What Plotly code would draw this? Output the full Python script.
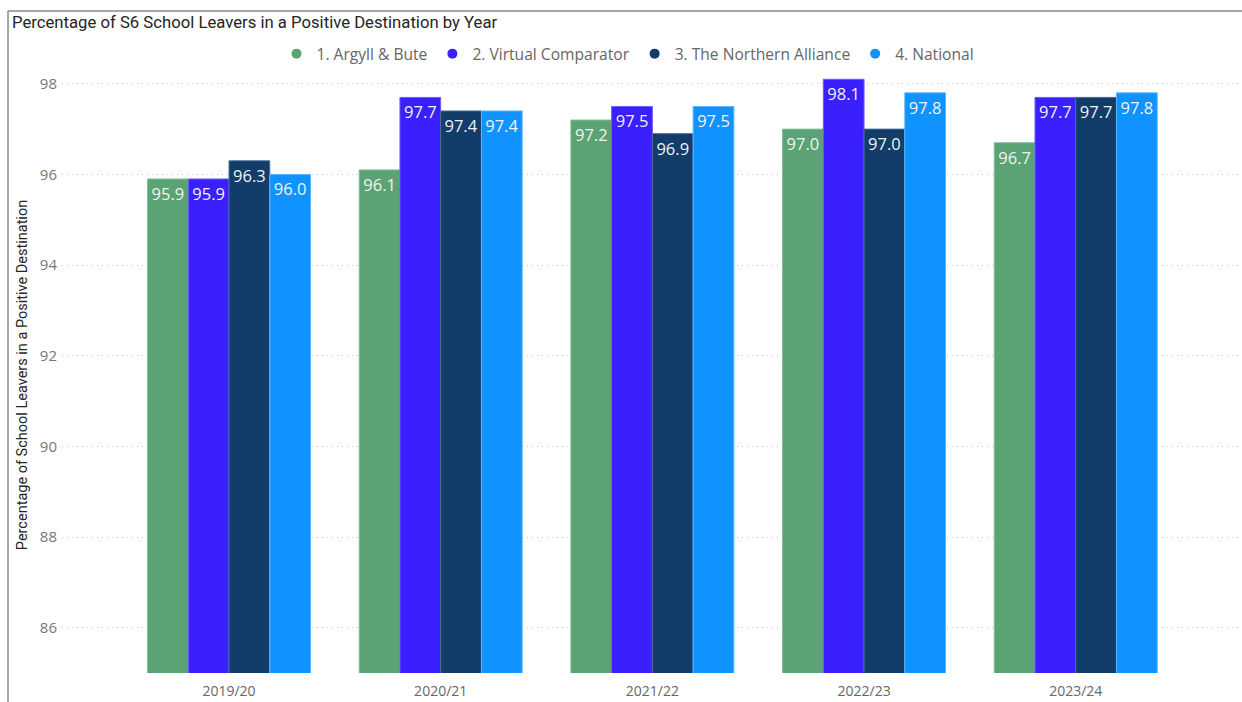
import plotly.graph_objects as go

years = ["2019/20", "2020/21", "2021/22", "2022/23", "2023/24"]
series_names = ["1. Argyll & Bute", "2. Virtual Comparator", "3. The Northern Alliance", "4. National"]
argyll = [95.9, 96.1, 97.2, 97.0, 96.7]
virtual = [95.9, 97.7, 97.5, 98.1, 97.7]
northern = [96.3, 97.4, 96.9, 97.0, 97.7]
national = [96.0, 97.4, 97.5, 97.8, 97.8]
colors = ["#5BA374", "#3A1FFF", "#123C6A", "#1193FF"]
edge = ["#7FBF95", "#6F5CFF", "#4A6A90", "#5AB6FF"]

W, H = 1242, 702
L, R, T, B = 62, 2, 77, 29
pw, ph = W - L - R, H - T - B

fig = go.Figure()
for name, vals, c, e in zip(series_names, [argyll, virtual, northern, national], colors, edge):
    fig.add_trace(go.Bar(
        x=years, y=vals, name=name, showlegend=False,
        marker=dict(color=c, line=dict(color=e, width=1)),
        text=[f"{v:.1f}" for v in vals], textposition="inside",
        insidetextanchor="end",
        textfont=dict(family="Open Sans, sans-serif", size=16.5, color="#F2F2F2"),
        texttemplate="%{text}",
    ))
for name, c in zip(series_names, colors):
    fig.add_trace(go.Scatter(
        x=[None], y=[None], mode="markers", name=name,
        marker=dict(symbol="circle", size=10, color=c),
    ))

def px_x(p):
    return (p - L) / pw

def px_y(p):
    return (H - B - p) / ph

fig.update_layout(
    width=W, height=H,
    margin=dict(l=L, r=R, t=T, b=B, autoexpand=False),
    paper_bgcolor="white", plot_bgcolor="white",
    barmode="group", bargap=0.23, bargroupgap=0,
    uniformtext=dict(minsize=8, mode="show"),
    title=dict(text="Percentage of S6 School Leavers in a Positive Destination by Year",
               x=12 / W, y=1 - 22 / H, xanchor="left", yanchor="middle", xref="container", yref="container",
               font=dict(family="Roboto, sans-serif", size=16.7, color="#252423")),
    legend=dict(orientation="h", x=628 / W, y=1 - 54 / H, xref="container", yref="container",
                xanchor="center", yanchor="middle",
                font=dict(family="Open Sans, sans-serif", size=15.6, color="#666"),
                itemwidth=30, traceorder="normal", tracegroupgap=0),
    showlegend=True,
    xaxis=dict(range=[-0.789, 4.776], showgrid=False, showline=False, ticks="", zeroline=False,
               automargin=False, ticklabelstandoff=8,
               tickfont=dict(family="Open Sans, sans-serif", size=14, color="#666")),
    yaxis=dict(range=[85, 98.15], tickvals=[86, 88, 90, 92, 94, 96, 98], showgrid=True,
               gridcolor="#C4C4C4", griddash="1px,4px", gridwidth=1, zeroline=False, showline=False,
               ticks="", ticklabelstandoff=4, automargin=False,
               tickfont=dict(family="Open Sans, sans-serif", size=15, color="#777"),
               title=dict(text="Percentage of School Leavers in a Positive Destination", standoff=8,
                          font=dict(family="Roboto, sans-serif", size=14.5, color="#252423"))),
    shapes=[
        dict(type="line", xref="paper", yref="paper", x0=px_x(8), x1=px_x(W + 5), y0=px_y(11), y1=px_y(11),
             line=dict(color="#888", width=1.5)),
        dict(type="line", xref="paper", yref="paper", x0=px_x(8), x1=px_x(8), y0=px_y(11), y1=px_y(H + 5),
             line=dict(color="#888", width=1.5)),
    ],
)
fig.write_html("out.html")
